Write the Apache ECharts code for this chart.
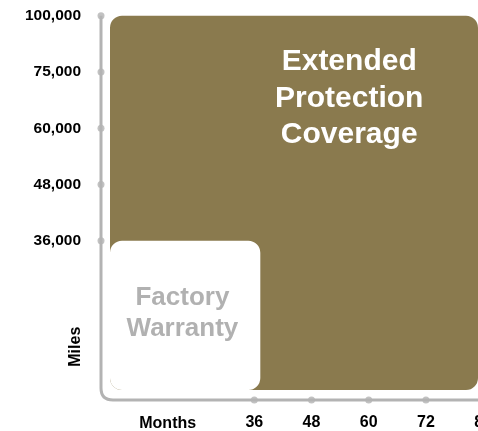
<!DOCTYPE html>
<html>
<head>
<meta charset="utf-8">
<style>
  html, body { margin: 0; padding: 0; background: #ffffff; }
  #chart { width: 478px; height: 431px; }
</style>
<script src="https://cdn.jsdelivr.net/npm/echarts@6/dist/echarts.min.js"></script>
</head>
<body>
<div id="chart"></div>
<script>
// ---- data ----
const mileTicks = ['36,000', '48,000', '60,000', '75,000', '100,000'];
const monthTicks = [36, 48, 60, 72, 84];
const coverageNames = ['Extended\nProtection\nCoverage', 'Factory\nWarranty'];
const coverageMonths = [84, 36];
const coverageMiles = ['100,000', '36,000'];
const xAxisTitle = 'Months';
const yAxisTitle = 'Miles';

// ---- axis extents (origin of the frame) ----
const X_MIN = 3.84, X_MAX = 100;
const Y_MIN = -2.83, Y_MAX = mileTicks.length - 1;

// ---- styles ----
const BROWN = '#8a7a4e';
const AXIS_GRAY = '#b3b3b3';
const FONT = '"Liberation Sans", Arial, Helvetica, sans-serif';
const boxStyles = [
  { fill: BROWN, color: '#ffffff', fontSize: 30, lineHeight: 36.3, tx: 0.65, ty: 0.221 },
  { fill: '#ffffff', color: '#b1b1b1', fontSize: 26, lineHeight: 31.6, tx: 0.482, ty: 0.486 }
];

const coverageData = coverageMonths.map((m, i) => [m, mileTicks.indexOf(coverageMiles[i])]);
const dotData = mileTicks.map((_, i) => [X_MIN, i]).concat(monthTicks.map(m => [m, Y_MIN]));

const chart = echarts.init(document.getElementById('chart'), null, { renderer: 'canvas' });

chart.setOption({
  animation: false,
  backgroundColor: '#ffffff',
  grid: {
    left: 101, top: 15.7, width: 458.4, height: 384.3,
    containLabel: false, outerBoundsMode: 'none'
  },
  xAxis: {
    type: 'value', min: X_MIN, max: X_MAX,
    axisLine: { show: false }, axisTick: { show: false }, splitLine: { show: false },
    axisLabel: {
      customValues: monthTicks, margin: 15,
      color: '#000000', fontSize: 16, fontWeight: 'bold', fontFamily: FONT,
      formatter: v => String(Math.round(v))
    }
  },
  yAxis: {
    type: 'value', min: Y_MIN, max: Y_MAX,
    axisLine: { show: false }, axisTick: { show: false }, splitLine: { show: false },
    axisLabel: {
      customValues: mileTicks.map((_, i) => i), margin: 20,
      color: '#000000', fontSize: 15.5, fontWeight: 'bold', fontFamily: FONT,
      formatter: v => mileTicks[Math.round(v)]
    }
  },
  graphic: [
    {
      type: 'text', x: 167.7, y: 423.3, silent: true,
      style: {
        text: xAxisTitle, fill: '#000000', fontSize: 16, fontWeight: 'bold', fontFamily: FONT,
        align: 'center', verticalAlign: 'middle', textAlign: 'center', textVerticalAlign: 'middle'
      }
    },
    {
      type: 'text', x: 76, y: 346.7, rotation: Math.PI / 2, silent: true,
      style: {
        text: yAxisTitle, fill: '#000000', fontSize: 16, fontWeight: 'bold', fontFamily: FONT,
        align: 'center', verticalAlign: 'middle', textAlign: 'center', textVerticalAlign: 'middle'
      }
    }
  ],
  series: [
    {
      type: 'custom', name: 'coverage', clip: false, silent: true, z: 2,
      data: coverageData,
      renderItem: function (params, api) {
        const i = params.dataIndex;
        const st = boxStyles[i];
        const origin = api.coord([X_MIN, Y_MIN]);
        const corner = api.coord([api.value(0), api.value(1)]);
        const left = origin[0] + 9;
        const bottom = origin[1] - 10;
        const right = Math.min(corner[0] + 6, api.getWidth());
        const top = corner[1];
        return {
          type: 'group',
          children: [
            {
              type: 'rect',
              shape: { x: left, y: top, width: right - left, height: bottom - top, r: 12 },
              style: { fill: st.fill }
            },
            {
              type: 'text',
              style: {
                text: coverageNames[i],
                x: left + (right - left) * st.tx,
                y: top + (bottom - top) * st.ty,
                align: 'center', verticalAlign: 'middle',
                fill: st.color, fontSize: st.fontSize, fontWeight: 'bold', fontFamily: FONT,
                lineHeight: st.lineHeight
              }
            }
          ]
        };
      }
    },
    {
      type: 'custom', name: 'frame', clip: false, silent: true, z: 3,
      data: [[X_MIN, Y_MIN]],
      renderItem: function (params, api) {
        const o = api.coord([X_MIN, Y_MIN]);
        const topY = api.coord([X_MIN, Y_MAX])[1];
        const w = api.getWidth();
        const r = 12;
        const x0 = o[0], y0 = o[1];
        return {
          type: 'path',
          shape: {
            pathData: 'M' + x0 + ' ' + topY + ' L' + x0 + ' ' + (y0 - r) +
              ' Q' + x0 + ' ' + y0 + ' ' + (x0 + r) + ' ' + y0 + ' L' + w + ' ' + y0
          },
          style: { fill: null, stroke: AXIS_GRAY, lineWidth: 3 }
        };
      }
    },
    {
      type: 'scatter', name: 'ticks', clip: false, silent: true, z: 4,
      symbol: 'circle', symbolSize: 7,
      itemStyle: { color: AXIS_GRAY },
      data: dotData
    }
  ]
});
</script>
</body>
</html>
